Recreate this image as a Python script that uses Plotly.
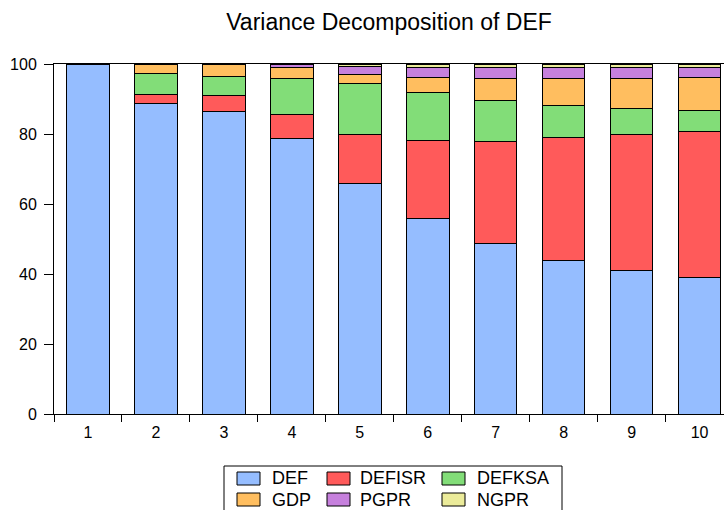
import plotly.graph_objects as go

periods = ["1", "2", "3", "4", "5", "6", "7", "8", "9", "10"]
DEF = [100, 88.8, 86.5, 78.8, 66.0, 55.8, 48.6, 44.0, 41.1, 38.9]
DEFISR = [0, 2.6, 4.5, 6.8, 13.9, 22.3, 29.4, 35.0, 38.9, 41.8]
DEFKSA = [0, 5.9, 5.5, 10.3, 14.4, 13.7, 11.6, 9.2, 7.3, 6.0]
GDP = [0, 2.7, 3.3, 3.0, 2.6, 4.3, 6.3, 7.7, 8.6, 9.4]
PGPR = [0, 0.0, 0.2, 0.9, 2.3, 2.8, 3.1, 3.1, 3.1, 2.9]
NGPR = [0, 0.0, 0.0, 0.2, 0.8, 1.1, 1.0, 1.0, 1.0, 1.0]

series_names = ["DEF", "DEFISR", "DEFKSA", "GDP", "PGPR", "NGPR"]
series_values = [DEF, DEFISR, DEFKSA, GDP, PGPR, NGPR]
colors = ["#95BDFF", "#FF5A5A", "#82DD78", "#FFBE5F", "#C680DD", "#EBEB9A"]
yticks = [0, 20, 40, 60, 80, 100]

FONT = "Liberation Sans, Arial, sans-serif"
W, H = 724, 510
L, R, T, B = 54, 0, 64, 96

fig = go.Figure()
for name, vals, col in zip(series_names, series_values, colors):
    fig.add_trace(go.Bar(
        x=periods, y=vals, name=name, width=0.627,
        marker=dict(color=col, line=dict(color="black", width=1)),
        showlegend=False,
    ))

# custom legend (box, swatches, labels) in pixel positions converted to paper coords
def px(x):
    return (x - L) / (W - L - R)

def py(y):
    return (H - B - y) / (H - T - B)

shapes = [dict(type="rect", xref="paper", yref="paper",
               x0=px(224), x1=px(562), y0=py(466), y1=py(512),
               line=dict(color="black", width=1), fillcolor="white", layer="above")]
annotations = []
col_sw = [237, 327, 442]
col_tx = [270, 358, 475]
row_sw = [(472, 485), (493, 506)]
row_tx = [478.5, 499.5]
for i, (name, col) in enumerate(zip(series_names, colors)):
    r, c = divmod(i, 3)
    shapes.append(dict(type="rect", xref="paper", yref="paper",
                       x0=px(col_sw[c]), x1=px(col_sw[c] + 23),
                       y0=py(row_sw[r][1]), y1=py(row_sw[r][0]),
                       line=dict(color="black", width=1), fillcolor=col, layer="above"))
    annotations.append(dict(xref="paper", yref="paper", x=px(col_tx[c]), y=py(row_tx[r]),
                            text=name, showarrow=False, xanchor="left", yanchor="middle",
                            font=dict(family=FONT, size=18, color="black")))

fig.update_layout(
    width=W, height=H,
    margin=dict(l=L, r=R, t=T, b=B),
    barmode="stack",
    paper_bgcolor="white", plot_bgcolor="white",
    title=dict(text="Variance Decomposition of DEF", x=0.5, xref="paper",
               y=1 - 22 / H, yref="container", yanchor="middle", xanchor="center",
               font=dict(family=FONT, size=23, color="black")),
    xaxis=dict(type="category", range=[-0.5, 9.36], tickson="boundaries",
               ticks="outside", ticklen=7, tickcolor="black", showline=True,
               linecolor="black", linewidth=1, mirror=True, showgrid=False,
               ticklabelstandoff=4,
               tickfont=dict(family=FONT, size=16, color="black")),
    yaxis=dict(range=[0, 100], tickvals=yticks, ticks="outside", ticklen=9,
               tickcolor="black", showline=True, linecolor="black", linewidth=1,
               showgrid=False, zeroline=False, ticklabelstandoff=4,
               tickfont=dict(family=FONT, size=16, color="black")),
    shapes=shapes, annotations=annotations,
)

fig.write_html("out.html", config={"displayModeBar": False},
               post_script="document.body.style.margin='0';document.body.style.overflow='hidden';")
